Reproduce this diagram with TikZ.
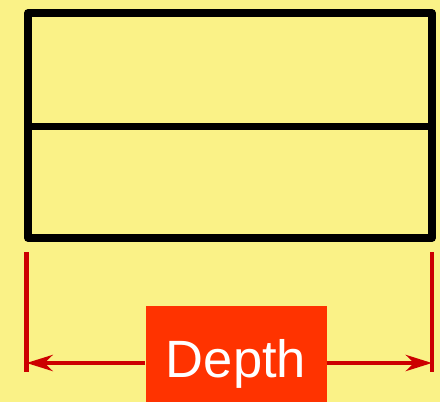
\documentclass[tikz,border=0pt]{standalone}
\usepackage{fontspec}
\setmainfont{Liberation Sans}
\usetikzlibrary{arrows.meta,positioning}
\definecolor{paper}{RGB}{250,242,135}
\definecolor{dimred}{RGB}{204,0,0}
\definecolor{tagred}{RGB}{255,51,0}

\begin{document}
\begin{tikzpicture}[x=1pt,y=-1pt,line join=round,
    outline/.style={line width=7.5pt,black},
    dimline/.style={line width=4.5pt,dimred},
    tag/.style={fill=tagred,text=white,font=\fontsize{52.5}{52.5}\selectfont,
      inner sep=0pt,minimum width=181pt,text height=71.7pt,text depth=24.3pt}]
  \fill[paper] (0,0) rectangle (440,402);
  \useasboundingbox (0,0) rectangle (440,402);
  % the box and its shelf
  \coordinate (tl) at (28,13);
  \coordinate (br) at (432,238);
  \draw[outline] (tl) rectangle (br);
  \draw[outline] (28,126.5) coordinate (ml) -- (432,126.5) coordinate (mr);
  % dimension
  \draw[dimline] (26.5,252) coordinate (lt) -- (26.5,372) coordinate (lb);
  \draw[dimline] (432,252) coordinate (rt) -- (432,372) coordinate (rb);
  \node[tag,anchor=north] (depth) at (236,306) {Depth};
  \coordinate (la) at (26.5,363);
  \coordinate (ra) at (432,363);
  \begin{scope}[>={Stealth[length=26pt,width=16pt,inset=8pt]}]
    \draw[dimline,->] (depth.west |- la) -- (la);
    \draw[dimline,->] (depth.east |- ra) -- (ra);
  \end{scope}
\end{tikzpicture}
\end{document}
